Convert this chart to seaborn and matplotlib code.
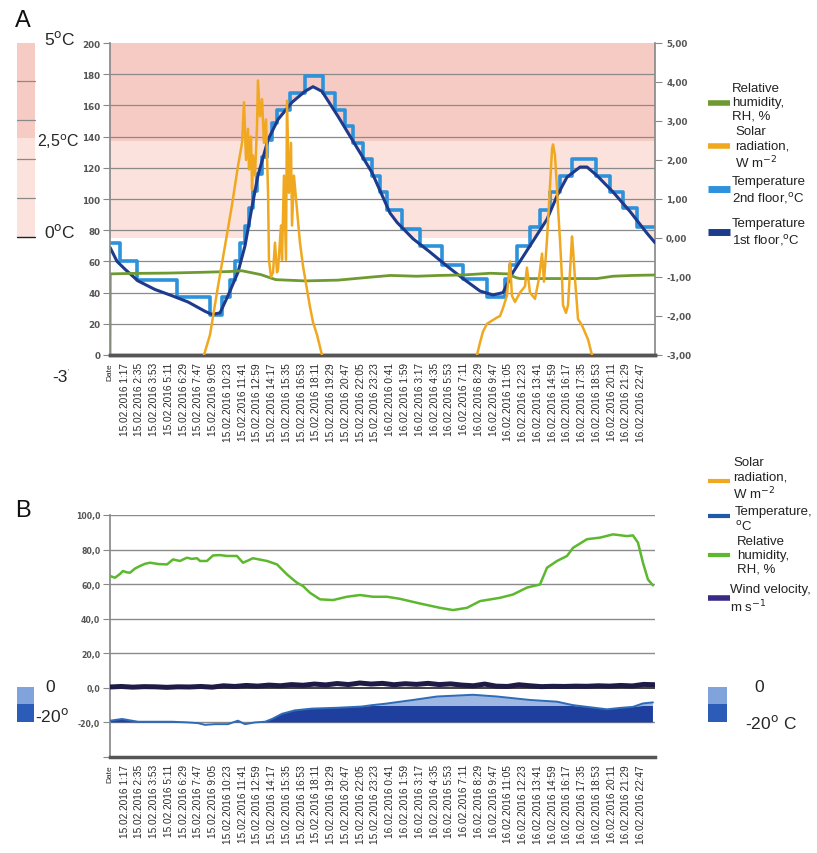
import numpy as np
import seaborn as sns
import matplotlib.pyplot as plt
from matplotlib.lines import Line2D
from matplotlib.patches import Rectangle
from matplotlib.transforms import blended_transform_factory

sns.set_theme(style='white')
plt.rcParams['font.family'] = ['Liberation Sans', 'DejaVu Sans']

W, H = 817, 854

# ---------------- data, panel A (hours from 15.02.2016 0:00) ----------------
# temperature 1st floor, degC (right axis)
t1_h = [0, 0.62, 1.32, 2.47, 3.96, 5.46, 6.87, 8.37, 8.98, 9.69,
        10.39, 11.27, 11.89, 12.51, 13.03, 13.92, 14.80, 16.03, 17.17, 17.88,
        18.67, 20.08, 21.58, 23.07, 24.66, 25.28, 26.69, 28.18, 29.68, 31.09,
        32.59, 33.73, 34.61, 35.49, 36.99, 38.49, 39.37, 40.25, 41.40, 42.01,
        42.89, 44.30, 45.80, 47.30, 48.0]
t1_c = [-0.24, -0.60, -0.80, -1.10, -1.32, -1.48, -1.64, -1.88, -1.96, -1.92,
        -1.48, -0.88, -0.20, 0.80, 1.60, 2.52, 3.04, 3.48, 3.76, 3.88,
        3.76, 3.12, 2.40, 1.68, 0.64, 0.40, -0.02, -0.36, -0.72, -1.04,
        -1.36, -1.46, -1.40, -0.88, -0.20, 0.48, 1.08, 1.56, 1.82, 1.82,
        1.60, 1.18, 0.68, 0.12, -0.12]

# temperature 2nd floor, degC (step changes)
t2_h = [0, 0.88, 2.38, 5.90, 8.81, 9.86, 10.57, 11.01, 11.45, 11.89,
        12.24, 12.59, 12.95, 13.39, 13.83, 14.27, 14.71, 15.85, 17.17, 18.76,
        19.82, 20.70, 21.40, 22.28, 23.08, 23.78, 24.40, 25.72, 27.30, 29.24,
        31.09, 33.20, 34.79, 35.23, 35.85, 36.99, 37.87, 38.75, 39.63, 40.69,
        42.80, 44.04, 45.18, 46.41, 48.0]
t2_c = [-0.12, -0.60, -1.08, -1.50, -1.98, -1.50, -1.08, -0.60, -0.12, 0.32,
        0.76, 1.20, 1.64, 2.08, 2.52, 2.96, 3.28, 3.72, 4.16, 3.72,
        3.28, 2.88, 2.44, 2.02, 1.60, 1.18, 0.72, 0.24, -0.20, -0.68,
        -1.04, -1.52, -1.04, -0.68, -0.20, 0.28, 0.72, 1.18, 1.60, 2.02,
        1.60, 1.18, 0.76, 0.28, 0.28]

# relative humidity, % (left axis)
rhA_h = [0, 0.02, 2, 5, 8, 10.5, 11.6, 12.3, 13.3, 14.1, 14.6, 17.2, 20.1,
         23.1, 24.7, 27, 29, 31.1, 33.5, 35.0, 35.8, 36.1, 42.9, 44.3, 46, 48]
rhA_v = [0, 52, 52.3, 52.5, 53, 53.5, 54, 53, 51.5, 49.5, 48.3, 47.5, 48,
         50, 51, 50.5, 51, 51.3, 52.4, 52, 49.5, 49, 49, 50.5, 51, 51.3]

# solar radiation, W m-2 (left axis), day 1 and day 2
sol1_h = [8.28, 8.81, 9.51, 10.13, 10.74, 11.27, 11.63, 11.80, 11.98, 12.15,
          12.24, 12.42, 12.51, 12.59, 12.77, 12.95, 13.03, 13.21, 13.39, 13.56,
          13.74, 13.92, 14.00, 14.18, 14.36, 14.53, 14.71, 14.80, 15.06, 15.15,
          15.32, 15.50, 15.59, 15.76, 15.94, 16.03, 16.20, 16.47, 16.73, 17.00,
          17.35, 17.61, 17.88, 18.23, 18.67]
sol1_v = [0, 13, 44, 70, 96, 121, 136, 162, 125, 145,
          119, 140, 106, 128, 115, 147, 176, 153, 164, 136,
          151, 104, 61, 50, 53, 72, 53, 55, 83, 61,
          115, 61, 163, 104, 136, 83, 115, 93, 72, 57,
          42, 31, 21, 13, 0]
sol2_h = [32.32, 32.59, 32.85, 33.20, 33.64, 34.08, 34.35, 34.61, 34.96, 35.23,
          35.40, 35.67, 36.11, 36.55, 36.72, 36.99, 37.43, 37.78, 38.05, 38.22,
          38.49, 38.66, 38.93, 39.02, 39.19, 39.37, 39.46, 39.63, 39.81, 39.90,
          40.16, 40.34, 40.51, 40.69, 40.78, 40.95, 41.13, 41.22, 41.57, 42.10,
          42.45]
sol2_v = [0, 8, 15, 20, 22, 24, 25, 30, 38, 60,
          38, 34, 40, 44, 56, 40, 36, 49, 65, 47,
          74, 96, 132, 135, 128, 107, 94, 74, 49, 32,
          27, 32, 53, 76, 68, 49, 32, 23, 19, 10,
          0]

# ---------------- data, panel B ----------------
rhB_h = [0, 0.44, 0.9, 1.14, 1.5, 1.76, 2.2, 2.64, 3.1, 3.52,
         4.3, 5.02, 5.55, 6.16, 6.78, 7.2, 7.66, 7.93, 8.54, 9.07,
         9.7, 10.3, 11.18, 11.71, 12.1, 12.59, 13.2, 13.83, 14.71, 15.59,
         16.47, 17.0, 17.61, 18.5, 19.64, 20.87, 22.02, 23.16, 24.4, 25.54,
         27.3, 29.06, 30.21, 31.44, 32.59, 34.35, 35.49, 36.72, 37.87, 38.49,
         39.37, 40.25, 40.78, 42.01, 43.15, 44.3, 45.53, 46.06, 46.5, 46.94,
         47.38, 47.82]
rhB_v = [64.7, 63.7, 66.0, 67.6, 66.8, 66.6, 69.0, 70.5, 71.8, 72.4,
         71.6, 71.4, 74.3, 73.4, 75.3, 74.6, 75.0, 73.4, 73.4, 76.6,
         76.8, 76.3, 76.3, 72.4, 73.5, 75.0, 74.2, 73.4, 71.4, 65.6,
         60.8, 58.9, 55.0, 51.2, 50.8, 52.7, 53.7, 52.7, 52.7, 51.5,
         48.8, 46.3, 45.0, 46.3, 50.2, 52.1, 54.0, 58.0, 59.8, 69.5,
         73.4, 76.3, 81.0, 86.0, 86.9, 88.8, 87.8, 88.2, 84.0, 72.4,
         62.7, 59.3]

tB_h = [0, 1.06, 2.47, 3.96, 5.46, 6.87, 7.75, 8.37, 9.25, 10.39,
        11.27, 11.89, 12.77, 13.65, 14.27, 15.15, 16.29, 17.79, 20.08, 22.19,
        23.07, 24.22, 26.69, 28.80, 31.97, 34.08, 36.99, 39.37, 40.78, 42.01,
        43.77, 44.92, 46.06, 46.94, 47.82]
tB_v = [-19, -18, -19.6, -19.6, -19.6, -20, -20.4, -21.4, -21, -21,
        -19, -21, -20, -19.6, -18, -15, -13, -12, -11.5, -10.8,
        -10.0, -9.2, -7, -5, -4, -5, -7, -8, -10, -11,
        -12.4, -11.6, -11, -9, -8.4]
tB_split = -10.5   # level where the dark fill stops and the light fill starts

wind_h = [0, 1, 2, 3, 4, 5, 6, 7, 8, 9,
          10, 11, 12, 13, 14, 15, 16, 17, 18, 19,
          20, 21, 22, 23, 24, 25, 26, 27, 28, 29,
          30, 31, 32, 33, 34, 35, 36, 37, 38, 39,
          40, 41, 42, 43, 44, 45, 46, 47, 48]
wind_v = [0.5, 0.8, 0.4, 0.7, 0.6, 0.3, 0.6, 0.5, 0.8, 0.4,
          1.2, 0.8, 1.4, 1.0, 1.6, 1.2, 1.9, 1.5, 2.2, 1.7,
          2.5, 1.9, 2.8, 2.2, 2.6, 1.8, 2.4, 2.0, 2.6, 1.9,
          2.3, 1.6, 1.2, 2.2, 1.0, 0.8, 1.8, 1.2, 0.7, 0.9,
          0.8, 1.0, 0.9, 1.2, 1.0, 1.4, 1.1, 2.0, 1.8]

# ---------------- tick labels ----------------
day1 = ['1:17', '2:35', '3:53', '5:11', '6:29', '7:47', '9:05', '10:23', '11:41',
        '12:59', '14:17', '15:35', '16:53', '18:11', '19:29', '20:47', '22:05', '23:23']
day2 = ['0:41', '1:59', '3:17', '4:35', '5:53', '7:11', '8:29', '9:47', '11:05',
        '12:23', '13:41', '14:59', '16:17', '17:35', '18:53', '20:11', '21:29', '22:47']
tick_labels = ['Date'] + ['15.02.2016 ' + s for s in day1] + ['16.02.2016 ' + s for s in day2]
tick_h = [0.0]
for off, day in [(0, day1), (24, day2)]:
    for s in day:
        hh, mm = s.split(':')
        tick_h.append(off + int(hh) + int(mm) / 60)

left_ticks_A = list(range(0, 201, 20))
right_ticks_A = [-3, -2, -1, 0, 1, 2, 3, 4, 5]
right_labels_A = ['-3,00', '-2,00', '-1,00', '0,00', '1,00', '2,00', '3,00', '4,00', '5,00']
ticks_B = [-40, -20, 0, 20, 40, 60, 80, 100]
labels_B = ['', '-20,0', '0,0', '20,0', '40,0', '60,0', '80,0', '100,0']

# colours
C_RH_A = '#6f9a32'
C_SOL = '#f0a820'
C_T2 = '#2d92dc'
C_T1 = '#1d3a8c'
C_RH_B = '#5cb82e'
C_TB = '#2f6cb7'
C_WIND = '#1e1b46'
C_PINK_D = '#f6cbc3'
C_PINK_L = '#fbe2dd'
C_FILL_D = '#1f3f9e'
C_FILL_L = '#9fb8e3'


def fx(px):
    return px / W


def fy(py):
    return 1 - py / H


fig = plt.figure(figsize=(W / 100, H / 100), dpi=100)

# ======================= panel A =======================
axA = fig.add_axes([fx(110), fy(356), 545 / W, 312 / H])
axA2 = axA.twinx()
axA.set_zorder(axA2.get_zorder() + 1)
axA.patch.set_visible(False)
axA2.patch.set_visible(True)
axA2.patch.set_facecolor('white')

# background bands and white area under the 1st floor curve
axA2.axhspan(2.5, 5, color=C_PINK_D, lw=0, zorder=0)
axA2.axhspan(0, 2.5, color=C_PINK_L, lw=0, zorder=0)
t1 = np.array(t1_c)
axA2.fill_between(t1_h, 0, t1, where=t1 > 0, interpolate=True, color='white', lw=0, zorder=0.5)

# grid of the left axis, drawn behind the temperature curves
gtrans = blended_transform_factory(axA2.transAxes, axA.transData)
for v in left_ticks_A[1:-1]:
    axA2.add_line(Line2D([0, 1], [v, v], transform=gtrans, color='#8a8a8a', lw=0.9, zorder=1))

sns.lineplot(x=t2_h, y=t2_c, ax=axA2, color=C_T2, lw=2.6, drawstyle='steps-post',
             estimator=None, sort=False, zorder=2)
sns.lineplot(x=t1_h, y=t1_c, ax=axA2, color=C_T1, lw=2.2, estimator=None, sort=False, zorder=3)

sns.lineplot(x=rhA_h, y=rhA_v, ax=axA, color=C_RH_A, lw=2.0, estimator=None, sort=False, zorder=2)
sns.lineplot(x=sol1_h, y=sol1_v, ax=axA, color=C_SOL, lw=1.8, estimator=None, sort=False, zorder=3)
sns.lineplot(x=sol2_h, y=sol2_v, ax=axA, color=C_SOL, lw=1.8, estimator=None, sort=False, zorder=3)

axA.set_xlim(0, 48)
axA.set_ylim(0, 200)
axA2.set_ylim(-3, 5)
axA.set_xlabel('')
axA.set_ylabel('')
axA2.set_ylabel('')

axA.set_yticks(left_ticks_A, [str(v) for v in left_ticks_A], fontfamily='DejaVu Sans',
               fontweight='bold', fontsize=6.3, color='#555555')
axA2.set_yticks(right_ticks_A, right_labels_A, fontfamily='DejaVu Sans',
                fontweight='bold', fontsize=6.3, color='#555555')
axA.tick_params(axis='y', left=True, length=5, width=0.8, color='#888888', pad=2)
axA2.tick_params(axis='y', right=True, length=5, width=0.8, color='#888888', pad=3)
axA.set_xticks(tick_h, tick_labels, rotation=90, fontsize=7.3, color='#2a2a2a')
axA.tick_params(axis='x', bottom=False, length=0, pad=5)
axA.get_xticklabels()[0].set_fontsize(6)
axA2.tick_params(axis='x', bottom=False, labelbottom=False)

for a in (axA, axA2):
    a.spines['top'].set_visible(False)
    a.spines['bottom'].set_color('#555555')
    a.spines['bottom'].set_linewidth(2.5)
axA.spines['right'].set_visible(False)
axA2.spines['left'].set_visible(False)
axA.spines['left'].set_color('#8a8a8a')
axA2.spines['right'].set_color('#8a8a8a')

# ======================= panel B =======================
axB = fig.add_axes([fx(110), fy(758), 545 / W, (758 - 516) / H])
for v in [20, 40, 60, 80, 100, -20]:
    axB.axhline(v, color='#8a8a8a', lw=1.0, zorder=1)
axB.axhline(0, color='#222222', lw=1.2, zorder=1)

tb = np.array(tB_v)
axB.fill_between(tB_h, -20, np.minimum(tb, tB_split), where=tb > -20, interpolate=True,
                 color=C_FILL_D, lw=0, zorder=2)
axB.fill_between(tB_h, tB_split, tb, where=tb > tB_split, interpolate=True,
                 color=C_FILL_L, lw=0, zorder=2)
sns.lineplot(x=tB_h, y=tB_v, ax=axB, color=C_TB, lw=1.4, estimator=None, sort=False, zorder=3)
sns.lineplot(x=wind_h, y=wind_v, ax=axB, color=C_WIND, lw=3.6, estimator=None, sort=False, zorder=4)
sns.lineplot(x=rhB_h, y=rhB_v, ax=axB, color=C_RH_B, lw=1.8, estimator=None, sort=False, zorder=4)

axB.set_xlim(0, 48)
axB.set_ylim(-40, 100)
axB.set_xlabel('')
axB.set_ylabel('')
axB.set_yticks(ticks_B, labels_B, fontfamily='DejaVu Sans', fontweight='bold',
               fontsize=5.6, color='#555555')
axB.tick_params(axis='y', left=True, length=5, width=0.8, color='#888888', pad=2)
axB.set_xticks(tick_h, tick_labels, rotation=90, fontsize=7.3, color='#2a2a2a')
axB.tick_params(axis='x', bottom=False, length=0, pad=5)
axB.get_xticklabels()[0].set_fontsize(6)
axB.spines['top'].set_visible(False)
axB.spines['right'].set_visible(False)
axB.spines['left'].set_color('#8a8a8a')
axB.spines['bottom'].set_color('#555555')
axB.spines['bottom'].set_linewidth(2.5)

# ======================= panel letters and side keys =======================
fig.text(fx(15), fy(21), 'A', fontsize=17, va='center', ha='left', color='#111111')
fig.text(fx(15), fy(511), 'B', fontsize=17, va='center', ha='left', color='#111111')

# temperature colour key, panel A
fig.add_artist(Rectangle((fx(17), fy(139)), 18 / W, 95 / H, transform=fig.transFigure,
                         color=C_PINK_D, lw=0))
fig.add_artist(Rectangle((fx(17), fy(238)), 18 / W, 99 / H, transform=fig.transFigure,
                         color=C_PINK_L, lw=0))
for py in [82, 121, 160, 199]:
    fig.add_artist(Line2D([fx(17), fx(35)], [fy(py), fy(py)], transform=fig.transFigure,
                          color='#8a8a8a', lw=0.9))
fig.add_artist(Line2D([fx(17), fx(35)], [fy(238), fy(238)], transform=fig.transFigure,
                      color='#222222', lw=1.0))
deg = r'$^{\mathrm{o}}$'
fig.text(fx(44), fy(39), '5' + deg + 'C', fontsize=12.5, va='center', ha='left')
fig.text(fx(37), fy(142), '2,5' + deg + 'C', fontsize=11.5, va='center', ha='left')
fig.text(fx(44), fy(232), '0' + deg + 'C', fontsize=12.5, va='center', ha='left')
fig.text(fx(52), fy(378), '-3', fontsize=12.5, va='center', ha='left')
fig.text(fx(68), fy(372), "'", fontsize=5, va='center', ha='left', color='#555555')

# temperature colour keys, panel B
for x0, w in [(17, 17), (708, 19)]:
    fig.add_artist(Rectangle((fx(x0), fy(705)), w / W, 17 / H, transform=fig.transFigure,
                             color='#7fa3da', lw=0))
    fig.add_artist(Rectangle((fx(x0), fy(723)), w / W, 18 / H, transform=fig.transFigure,
                             color='#2a5cb8', lw=0))
fig.text(fx(45), fy(688), '0', fontsize=12.5, va='center', ha='left')
fig.text(fx(35), fy(716), '-20' + deg, fontsize=12.5, va='center', ha='left')
fig.text(fx(754), fy(688), '0', fontsize=12.5, va='center', ha='left')
fig.text(fx(745), fy(723), '-20' + deg + ' C', fontsize=12.5, va='center', ha='left')


# legends (line sample + multi-line label)
def legend_entry(py_line, py_text, px_text, color, text, lw=4.0):
    fig.add_artist(Line2D([fx(708), fx(730)], [fy(py_line), fy(py_line)],
                          transform=fig.transFigure, color=color, lw=lw,
                          solid_capstyle='butt'))
    fig.text(fx(px_text), fy(py_text), text, fontsize=9.5, va='center', ha='left',
             linespacing=1.2, color='#222222')


legend_entry(104, 103, 732, C_RH_A, 'Relative\nhumidity,\nRH, %')
legend_entry(147, 149, 735, C_SOL, 'Solar\nradiation,\nW m$^{-2}$')
legend_entry(190, 191, 732, C_T2, 'Temperature\n2nd floor,' + deg + 'C', lw=5)
legend_entry(233, 233, 732, C_T1, 'Temperature\n1st floor,' + deg + 'C', lw=5)

legend_entry(482, 480, 733, C_SOL, 'Solar\nradiation,\nW m$^{-2}$', lw=3)
legend_entry(517, 520, 735, '#1f5aa8', 'Temperature,\n' + deg + 'C', lw=3)
legend_entry(556, 556, 737, C_RH_B, 'Relative\nhumidity,\nRH, %', lw=3)
legend_entry(599, 600, 730, '#3a2a86', 'Wind velocity,\nm s$^{-1}$', lw=4)

fig.savefig('out.png', dpi=100)
